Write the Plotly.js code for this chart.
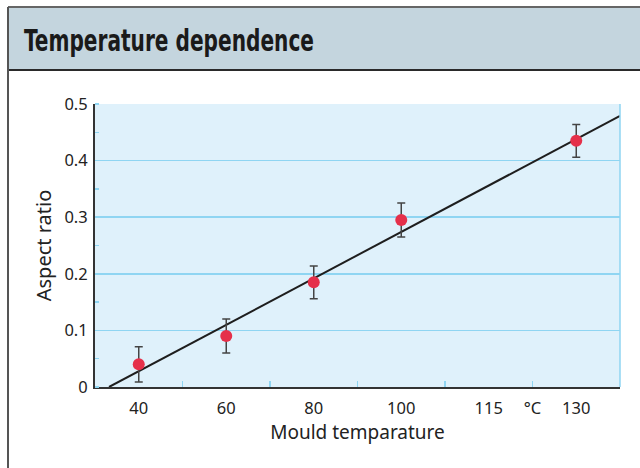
<!DOCTYPE html>
<html>
<head>
<meta charset="utf-8">
<script src="https://cdn.plot.ly/plotly-3.0.1.min.js"></script>
<style>
html,body{margin:0;padding:0;background:#fff;}
#chart{width:640px;height:468px;}
</style>
</head>
<body>
<div id="chart"></div>
<script>
// ---- data ----
const axisTemps = [40, 60, 80, 100, 115, 130];        // tick labels along x (equally spaced)
const unitLabel = '°C';
const temps = [40, 60, 80, 100, 130];                  // measured mould temperatures
const aspect = [0.04, 0.09, 0.185, 0.295, 0.435];      // aspect ratio
const errs = [0.031, 0.03, 0.029, 0.03, 0.029];        // error bar half-lengths
const fitPos = [-0.34, 5.5];                           // fitted line, in tick-index units
const fitAspect = [0, 0.479];
const yTicks = [0, 0.1, 0.2, 0.3, 0.4, 0.5];

// ---- geometry ----
const W = 640, H = 468;
const M = {l: 95, r: 20, t: 104, b: 81};
const pw = W - M.l - M.r, ph = H - M.t - M.b;
const px = x => (x - M.l) / pw;
const py = y => 1 - (y - M.t) / ph;

const xPos = temps.map(t => axisTemps.indexOf(t));
const tickvals = axisTemps.map((t, i) => i);
const ticktext = axisTemps.map(String);
tickvals.splice(5, 0, 4.5);
ticktext.splice(5, 0, unitLabel);

const font = '"Noto Sans", "Open Sans", sans-serif';
const grid = '#8fd5f2';

const traces = [
  {
    x: fitPos, y: fitAspect, mode: 'lines', type: 'scatter',
    line: {color: '#1e1e1e', width: 2}, hoverinfo: 'skip', showlegend: false
  },
  {
    x: xPos, y: aspect, mode: 'markers', type: 'scatter',
    marker: {color: '#e5304a', size: 12},
    error_y: {type: 'data', array: errs, visible: true, color: '#444', thickness: 1.5, width: 4},
    showlegend: false
  }
];

const layout = {
  width: W, height: H,
  margin: M,
  paper_bgcolor: '#ffffff',
  plot_bgcolor: '#dff1fb',
  showlegend: false,
  font: {family: font, size: 16, color: '#222'},
  title: {
    text: 'Temperature dependence',
    font: {family: '"DejaVu Sans Condensed", "DejaVu Sans", sans-serif', size: 30, weight: 'bold', color: '#1a1a1a'},
    xref: 'container', yref: 'container',
    x: 24 / W, xanchor: 'left',
    y: 1 - 40 / H, yanchor: 'middle'
  },
  xaxis: {
    type: 'linear',
    range: [-0.5, 5.5],
    tickmode: 'array', tickvals: tickvals, ticktext: ticktext,
    ticks: '', showgrid: false, zeroline: false,
    showline: true, linecolor: '#333', linewidth: 2,
    tickfont: {family: font, size: 16.5, color: '#222'},
    ticklabelstandoff: 5,
    minor: {tickmode: 'array', tickvals: [0.5, 1.5, 2.5, 3.5, 4.5], ticks: 'inside', ticklen: 6, tickcolor: grid, tickwidth: 1.5, showgrid: false},
    title: {text: 'Mould temparature', font: {family: font, size: 19, color: '#222'}, standoff: 8},
    fixedrange: true
  },
  yaxis: {
    range: [0, 0.5],
    tickmode: 'array', tickvals: yTicks, ticktext: yTicks.map(String),
    ticks: '', showgrid: true, gridcolor: grid, gridwidth: 1.5, zeroline: false,
    showline: true, linecolor: '#333', linewidth: 2,
    tickfont: {family: font, size: 16.5, color: '#222'},
    ticklabelstandoff: 2,
    minor: {dtick: 0.05, tick0: 0, ticks: 'inside', ticklen: 4, tickcolor: grid, tickwidth: 1.5, showgrid: false},
    title: {text: 'Aspect ratio', font: {family: font, size: 20, color: '#222'}, standoff: 7},
    fixedrange: true
  },
  shapes: [
    // header band
    {type: 'rect', xref: 'paper', yref: 'paper', x0: px(8), x1: px(W + 5), y0: py(70), y1: py(7),
     fillcolor: '#c4d5de', line: {width: 0}, layer: 'below'},
    {type: 'line', xref: 'paper', yref: 'paper', x0: px(8), x1: px(W + 5), y0: py(7), y1: py(7),
     line: {color: '#666', width: 2}},
    {type: 'line', xref: 'paper', yref: 'paper', x0: px(8), x1: px(W + 5), y0: py(70), y1: py(70),
     line: {color: '#2a2a2a', width: 2}},
    // frame left edge
    {type: 'line', xref: 'paper', yref: 'paper', x0: px(8), x1: px(8), y0: py(7), y1: py(H + 5),
     line: {color: '#555', width: 2}},
    // right edge of plot area
    {type: 'line', xref: 'paper', yref: 'paper', x0: 1, x1: 1, y0: 0, y1: 1,
     line: {color: grid, width: 1.5}}
  ]
};

Plotly.newPlot('chart', traces, layout, {displayModeBar: false, staticPlot: true}).then(gd => {
  // the reference title uses a condensed face; squeeze the title text to its width
  const t = gd.querySelector('.gtitle');
  if (t) {
    t.setAttribute('textLength', '290');
    t.setAttribute('lengthAdjust', 'spacingAndGlyphs');
  }
});
</script>
</body>
</html>
